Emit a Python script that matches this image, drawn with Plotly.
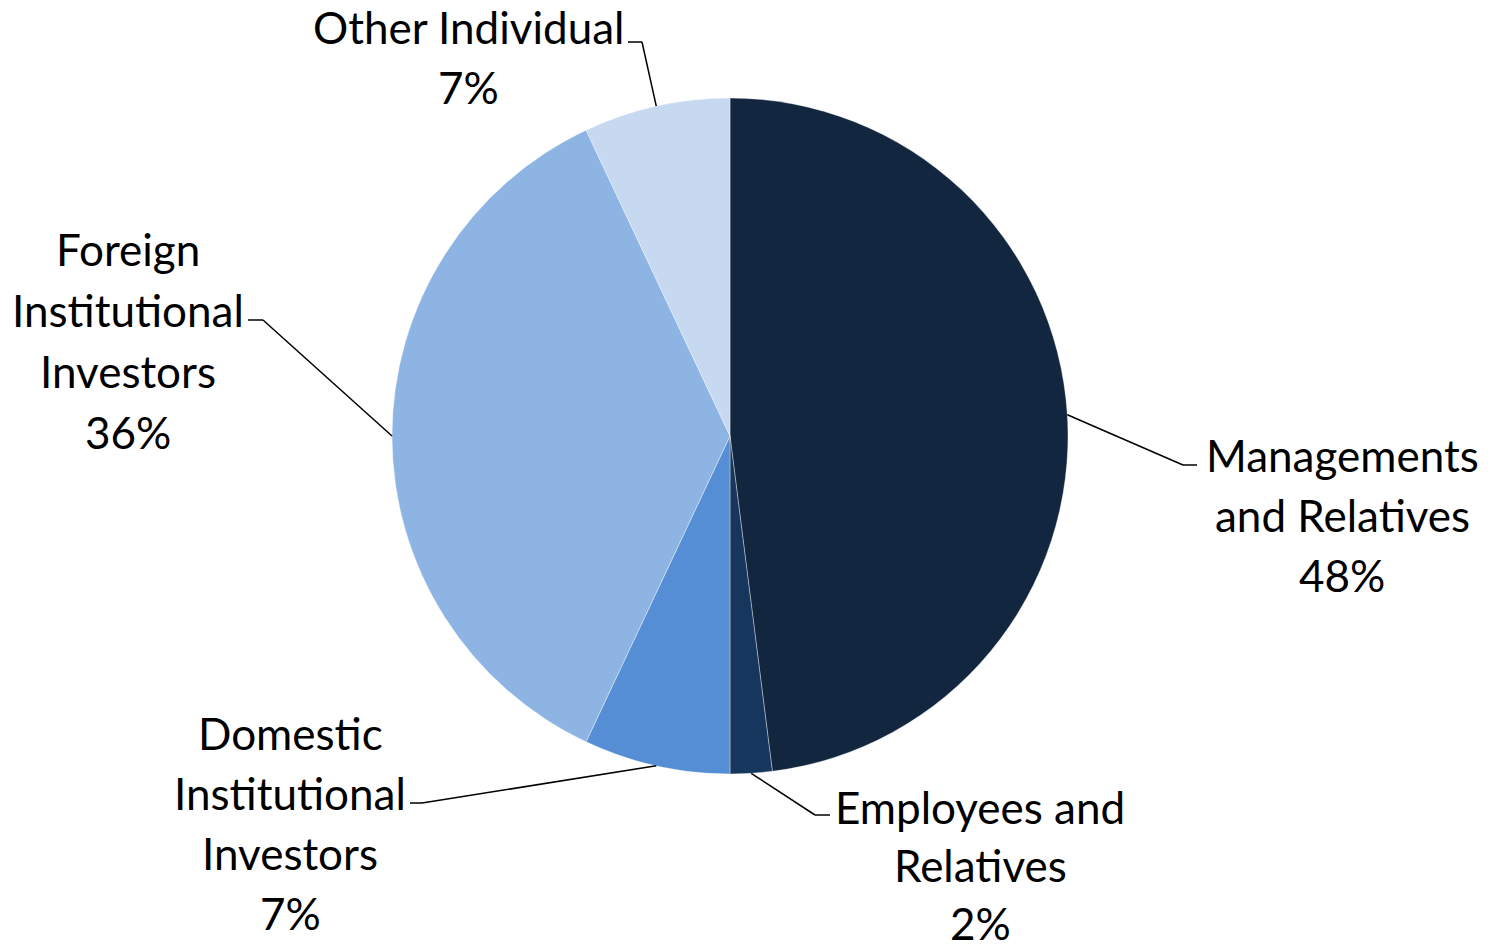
import math
import plotly.graph_objects as go

# Shareholding breakdown
categories = ["Managements and Relatives", "Employees and Relatives",
              "Domestic Institutional Investors", "Foreign Institutional Investors",
              "Other Individual"]
shares = [48, 2, 7, 36, 7]
label_lines = [
    ["Managements", "and Relatives"],
    ["Employees and", "Relatives"],
    ["Domestic", "Institutional", "Investors"],
    ["Foreign", "Institutional", "Investors"],
    ["Other Individual"],
]
colors = ["#12263F", "#17365D", "#558ED5", "#8EB4E3", "#C6D9F1"]

W, H = 1502, 950
CX, CY, R = 730, 436, 338

# label block layout (pixels): text centre x, first line y, elbow point, elbow end
label_layout = [
    dict(tx=1342, ty=455, gap=60, elbow=(1183, 465), end=(1197, 465)),
    dict(tx=980, ty=807, gap=58, elbow=(815, 815), end=(830, 815)),
    dict(tx=290, ty=733, gap=60, elbow=(422, 803), end=(410, 803)),
    dict(tx=128, ty=249, gap=61, elbow=(263, 320), end=(248, 320)),
    dict(tx=468, ty=27, gap=60, elbow=(642, 42), end=(628, 42)),
]
FONT = dict(family="Lato, Carlito, Calibri, sans-serif", size=44, color="#000000")


def px(x):
    return x / W


def py(y):
    return 1 - y / H


fig = go.Figure(go.Pie(
    labels=categories,
    values=shares,
    sort=False,
    direction="clockwise",
    rotation=0,
    textinfo="none",
    hoverinfo="label+percent",
    marker=dict(colors=colors, line=dict(color="rgba(255,255,255,0.6)", width=0.6)),
    domain=dict(x=[px(CX - R), px(CX + R)], y=[py(CY + R), py(CY - R)]),
    showlegend=False,
))

annotations = []
shapes = []
total = sum(shares)
cum = 0
for name, val, lines, lay in zip(categories, shares, label_lines, label_layout):
    mid = (cum + val / 2) / total * 2 * math.pi
    cum += val
    sx = CX + R * math.sin(mid)
    sy = CY - R * math.cos(mid)
    ex, ey = lay["elbow"]
    hx, hy = lay["end"]
    line_style = dict(color="#000000", width=1.5)
    shapes.append(dict(type="line", xref="paper", yref="paper",
                       x0=px(sx), y0=py(sy), x1=px(ex), y1=py(ey), line=line_style))
    shapes.append(dict(type="line", xref="paper", yref="paper",
                       x0=px(ex), y0=py(ey), x1=px(hx), y1=py(hy), line=line_style))
    texts = lines + [f"{round(val / total * 100)}%"]
    for i, t in enumerate(texts):
        annotations.append(dict(
            text=t, x=px(lay["tx"]), y=py(lay["ty"] + i * lay["gap"]),
            xref="paper", yref="paper", xanchor="center", yanchor="middle",
            showarrow=False, font=FONT,
        ))

fig.update_layout(
    width=W, height=H,
    margin=dict(l=0, r=0, t=0, b=0),
    paper_bgcolor="#FFFFFF",
    plot_bgcolor="#FFFFFF",
    annotations=annotations,
    shapes=shapes,
)

fig.write_html("out.html")
